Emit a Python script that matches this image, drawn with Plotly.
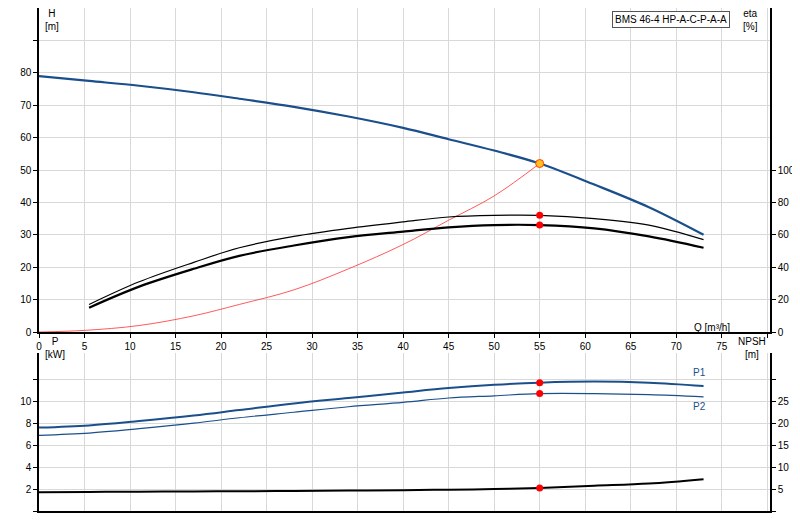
import plotly.graph_objects as go

# Pump curve data (Q in m3/h)
q = [5.5, 11, 17, 22, 28, 34, 40, 45, 50, 55, 61, 67, 73]
q_head = [0] + q
head = [79, 77.5, 76, 74, 72, 69.5, 66.5, 63, 59.5, 56, 52, 45.5, 38.5, 30]
eta_upper = [17, 31, 43, 52, 59, 64, 68, 71, 72, 72, 70, 66, 57]
eta_lower = [15, 28, 39, 47, 53.4, 58.6, 62, 64.6, 66, 66, 64, 59, 52]
q_sys = [0, 5, 11, 17, 22, 28, 34, 40, 45, 50, 55]
h_sys = [0, 0.5, 2, 5, 8.5, 13, 19.5, 27, 34.5, 42, 52]
p1 = [7.6, 7.8, 8.2, 8.7, 9.2, 9.8, 10.3, 10.8, 11.2, 11.5, 11.7, 11.8, 11.7, 11.4]
p2 = [6.9, 7.1, 7.5, 8.0, 8.5, 9.0, 9.5, 9.9, 10.3, 10.5, 10.7, 10.7, 10.6, 10.4]
npsh = [4.3, 4.35, 4.4, 4.45, 4.5, 4.55, 4.65, 4.75, 4.85, 5.0, 5.25, 5.75, 6.25, 7.25]
duty_q = 55

blue = '#1a4f8c'
fig = go.Figure()
fig.add_trace(go.Scatter(x=q_sys, y=h_sys, mode='lines', line=dict(color='#ff3030', width=0.8, shape='spline')))
fig.add_trace(go.Scatter(x=q_head, y=head, mode='lines', line=dict(color=blue, width=2.2, shape='spline')))
fig.add_trace(go.Scatter(x=q, y=eta_upper, yaxis='y2', mode='lines', line=dict(color='black', width=1.2, shape='spline')))
fig.add_trace(go.Scatter(x=q, y=eta_lower, yaxis='y2', mode='lines', line=dict(color='black', width=2.2, shape='spline')))
fig.add_trace(go.Scatter(x=[duty_q], y=[52], mode='markers', marker=dict(color='#ffc020', size=8, line=dict(color='#ff4000', width=1))))
fig.add_trace(go.Scatter(x=[duty_q, duty_q], y=[72, 66], yaxis='y2', mode='markers', marker=dict(color='red', size=7)))

fig.add_trace(go.Scatter(x=q_head, y=p1, xaxis='x2', yaxis='y3', mode='lines', line=dict(color=blue, width=2, shape='spline')))
fig.add_trace(go.Scatter(x=q_head, y=p2, xaxis='x2', yaxis='y3', mode='lines', line=dict(color=blue, width=1.2, shape='spline')))
fig.add_trace(go.Scatter(x=q_head, y=npsh, xaxis='x2', yaxis='y4', mode='lines', line=dict(color='black', width=2, shape='spline')))
fig.add_trace(go.Scatter(x=[duty_q, duty_q], y=[11.7, 10.7], xaxis='x2', yaxis='y3', mode='markers', marker=dict(color='red', size=7)))
fig.add_trace(go.Scatter(x=[duty_q], y=[5.25], xaxis='x2', yaxis='y4', mode='markers', marker=dict(color='red', size=7)))

grid = '#d9d9d9'
H = 520 - 17
ax = dict(showline=True, linecolor='black', linewidth=1.5, gridcolor=grid, ticks='outside',
          ticklen=4, tickcolor='black', zeroline=False, automargin=False)
xt = list(range(0, 85, 5))
fig.update_layout(
    width=800, height=520, margin=dict(l=31, r=38, t=0, b=17), showlegend=False,
    plot_bgcolor='white', paper_bgcolor='white',
    font=dict(family='Liberation Sans, Arial', size=10, color='black'),
    xaxis=dict(ax, domain=[0, 1], range=[0, 80.3], anchor='y', tickvals=xt,
               ticktext=[str(v) for v in xt[:-1]] + ['']),
    yaxis=dict(ax, domain=[1 - 324 / H, 1], range=[0, 100], tickvals=list(range(0, 100, 10)),
               ticktext=[str(v) for v in range(0, 90, 10)] + ['']),
    yaxis2=dict(ax, overlaying='y', side='right', anchor='x', range=[0, 200], showgrid=False,
                tickvals=list(range(0, 120, 20))),
    xaxis2=dict(ax, domain=[0, 1], range=[0, 80.3], anchor='y3', tickvals=xt, showticklabels=False,
                ticks=''),
    yaxis3=dict(ax, domain=[0, 1 - 345 / H], range=[0, 14.4], tickvals=list(range(0, 14, 2)),
                ticktext=['', '2', '4', '6', '8', '10', '']),
    yaxis4=dict(ax, overlaying='y3', side='right', anchor='x2', range=[0, 36], showgrid=False,
                tickvals=list(range(0, 35, 5)), ticktext=['', '5', '10', '15', '20', '25', '']),
)

notes = [
    (4, 508, 'H<br>[m]', 'left'), (768, 508, 'eta<br>[%]', 'left'),
    (4, 168, 'P<br>[kW]', 'left'), (798, 168, 'NPSH<br>[m]', 'right'),
    (758, 190, 'Q [m³/h]', 'right'),
]
for x, y, t, a in notes:
    fig.add_annotation(x=x / 800, y=y / 520, xref='paper', yref='paper', text=t, showarrow=False,
                       xanchor=a, yanchor='middle', align='center')
fig.add_annotation(x=73.5, y=11.9, xref='x2', yref='y3', text='P1', showarrow=False, xanchor='right',
                   yanchor='bottom', font=dict(color=blue))
fig.add_annotation(x=73.5, y=10.2, xref='x2', yref='y3', text='P2', showarrow=False, xanchor='right',
                   yanchor='top', font=dict(color=blue))
fig.add_annotation(x=756 / 800, y=1 - 3 / 520, xref='paper', yref='paper', text='BMS 46-4 HP-A-C-P-A-A',
                   showarrow=False, xanchor='right', yanchor='top', bgcolor='white',
                   bordercolor='#555', borderwidth=1, borderpad=2)

fig.write_html("out.html")
